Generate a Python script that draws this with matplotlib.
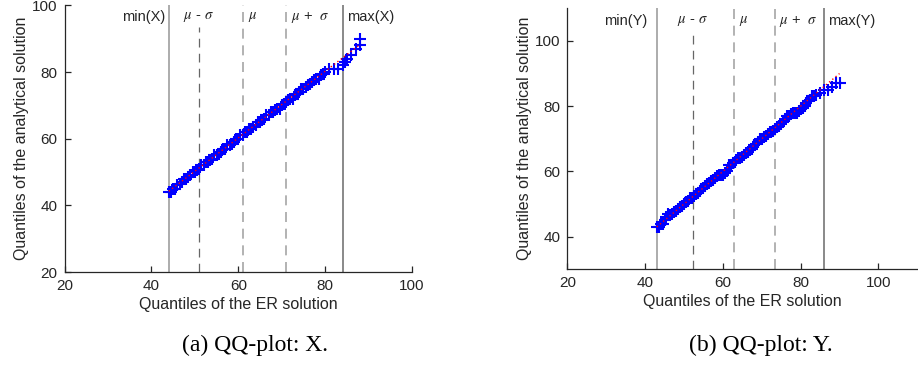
import matplotlib
import matplotlib.pyplot as plt
import numpy as np

matplotlib.use('Agg')

plt.rcParams['font.family'] = ['Liberation Sans', 'DejaVu Sans']
plt.rcParams['mathtext.fontset'] = 'stix'

# quantile pairs (ER solution vs analytical solution)
er_x = [44, 44.5, 45, 45.5, 46, 46.5, 47, 47.5, 48, 48.5, 49, 49.5, 50, 50.5, 51, 51.5,
        52, 52.5, 53, 53.5, 54, 54.5, 55, 55.5, 56, 56.5, 57, 57.5, 58, 58.5, 59, 59.5,
        60, 60.5, 61, 61.5, 62, 62.5, 63, 63.5, 64, 64.5, 65, 65.5, 66, 66.5, 67, 67.5,
        68, 68.5, 69, 69.5, 70, 70.5, 71, 71.5, 72, 72.5, 73, 73.5, 74, 74.5, 75, 75.5,
        76, 76.5, 77, 77.5, 78, 78.5, 79, 79.5, 80, 81, 82, 83, 84, 84.5, 85, 86, 87, 88, 88]
an_x = [44, 44, 45, 45, 46, 46.5, 47, 48, 48, 48.5, 49, 50, 50, 50.5, 51, 52,
        52, 53, 53, 53.5, 54, 55, 55, 55.5, 56, 57, 57, 58, 58, 58.5, 59, 60,
        60, 61, 61, 62, 62, 63, 63, 63.5, 64, 65, 65, 65.5, 66, 67, 67, 68,
        68, 68.5, 69, 69, 70, 70.5, 71, 71.5, 72, 72, 73, 73.5, 74, 75, 75, 75.5,
        76, 76.5, 77, 77.5, 78, 78, 79, 79.5, 80, 81, 81, 81, 82, 83, 84, 85, 87, 88, 90]

er_y = [43, 43.5, 44, 44.5, 45, 45.5, 46, 46.5, 47, 47.5, 48, 48.5, 49, 49.5, 50, 50.5,
        51, 51.5, 52, 52.5, 53, 53.5, 54, 54.5, 55, 55.5, 56, 56.5, 57, 57.5, 58, 58.5,
        59, 59.5, 60, 60.5, 61, 61.5, 62, 62.5, 63, 63.5, 64, 64.5, 65, 65.5, 66, 66.5,
        67, 67.5, 68, 68.5, 69, 69.5, 70, 70.5, 71, 71.5, 72, 72.5, 73, 73.5, 74, 74.5,
        75, 75.5, 76, 76.5, 77, 77.5, 78, 78.5, 79, 79.5, 80, 80.5, 81, 81.5, 82, 82.5,
        83, 83.5, 84, 85, 86, 87, 88, 89, 90]
an_y = [43, 43, 44, 44, 45, 46, 47, 46.5, 47, 47.5, 48, 48.5, 49, 49.5, 50, 50.5,
        51, 52, 52, 52.5, 53, 53.5, 54, 54.5, 55, 55.5, 56, 56.5, 57, 57.5, 58, 58.5,
        59, 59, 59, 59.5, 60, 62, 62, 62.5, 63, 63.5, 64, 64, 64.5, 65, 65.5, 66,
        66.5, 67, 68, 68.5, 69, 70, 70, 70.5, 71, 71.5, 72, 72, 72.5, 73, 73.5, 74,
        74.5, 75, 76, 77, 77, 77.5, 78, 78, 78, 78.5, 79, 79.5, 80, 81, 81.5, 82,
        83, 83, 83.5, 84, 85, 85, 86, 87, 87]

# reference lines: min, mu - sigma, mu, mu + sigma, max
vlines_x = [44.1, 51.0, 61.0, 70.9, 84.0]
vlines_y = [43.1, 52.3, 62.9, 73.3, 86.0]

panels = [
    dict(er=er_x, an=an_x, vl=vlines_x, name='X', rect=[0.0703, 0.2568, 0.3785, 0.7282],
         xlim=(20, 100), ylim=(20, 100), yticks=[20, 40, 60, 80, 100],
         lab_y=96.5, sig_top=93.6, caption='(a) QQ-plot: X.', cap_x=255.5,
         lab_x=[43.3, 47.2, 62.2, 72.1, 85.0]),
    dict(er=er_y, an=an_y, vl=vlines_y, name='Y', rect=[0.618, 0.2642, 0.3812, 0.7131],
         xlim=(20, 110), ylim=(30, 110), yticks=[40, 60, 80, 100],
         lab_y=106.1, sig_top=103.1, caption='(b) QQ-plot: Y.', cap_x=761.3,
         lab_x=[40.5, 48.3, 64.2, 74.4, 87.1]),
]

fig = plt.figure(figsize=(9.18, 3.66), dpi=100)
dark = '#262626'
light_gray = '#a6a6a6'

for p in panels:
    ax = fig.add_axes(p['rect'])
    er = np.array(p['er'])
    an = np.array(p['an'])

    # qqplot style reference line through the quartiles
    q1x, q3x = np.percentile(er, [25, 75])
    q1y, q3y = np.percentile(an, [25, 75])
    slope = (q3y - q1y) / (q3x - q1x)
    lx = np.array([er.min(), er.max()])
    ax.plot(lx, q1y + slope * (lx - q1x), color='red', ls=(0, (1, 2)), lw=1.0, zorder=3)

    ax.plot(er, an, ls='none', marker='+', color='#0000ff', ms=8.5, mew=1.5, zorder=2)

    vl = p['vl']
    ax.axvline(vl[0], color=light_gray, lw=1.3, zorder=0)
    ax.plot([vl[1], vl[1]], [p['ylim'][0], p['sig_top']], color='#666666', lw=0.9,
            ls=(0, (7, 5)), zorder=0)
    ax.axvline(vl[2], color=light_gray, lw=1.2, ls=(0, (6, 4)), zorder=0)
    ax.axvline(vl[3], color=light_gray, lw=1.2, ls=(0, (6, 4)), zorder=0)
    ax.axvline(vl[4], color='#808080', lw=1.3, zorder=0)

    lx_ = p['lab_x']
    fs = 10.5
    ax.text(lx_[0], p['lab_y'], f"min({p['name']})", ha='right', va='center', fontsize=fs, color=dark)
    ax.text(lx_[1], p['lab_y'], r'$\mu$ - $\sigma$', ha='left', va='center', fontsize=fs, color=dark)
    ax.text(lx_[2], p['lab_y'], r'$\mu$', ha='left', va='center', fontsize=fs, color=dark)
    ax.text(lx_[3], p['lab_y'], r'$\mu$ +  $\sigma$', ha='left', va='center', fontsize=fs, color=dark)
    ax.text(lx_[4], p['lab_y'], f"max({p['name']})", ha='left', va='center', fontsize=fs, color=dark)

    ax.set_xlim(*p['xlim'])
    ax.set_ylim(*p['ylim'])
    ax.set_xticks([20, 40, 60, 80, 100])
    ax.set_yticks(p['yticks'])
    ax.spines['top'].set_visible(False)
    ax.spines['right'].set_visible(False)
    for s in ('left', 'bottom'):
        ax.spines[s].set_color(dark)
        ax.spines[s].set_linewidth(0.9)
    ax.tick_params(direction='in', length=4, width=0.9, colors=dark, labelsize=11,
                   labelcolor=dark, pad=5)
    ax.set_xlabel('Quantiles of the ER solution', fontsize=11.5, color=dark, labelpad=3)
    ax.set_ylabel('Quantiles of the analytical solution', fontsize=11.5, color=dark, labelpad=2)

    fig.text(p['cap_x'] / 918, 1 - 345 / 366, p['caption'], ha='center', va='center',
             fontsize=17, family=['Liberation Serif', 'DejaVu Serif'])

fig.savefig('out.png', dpi=100)
plt.close(fig)
